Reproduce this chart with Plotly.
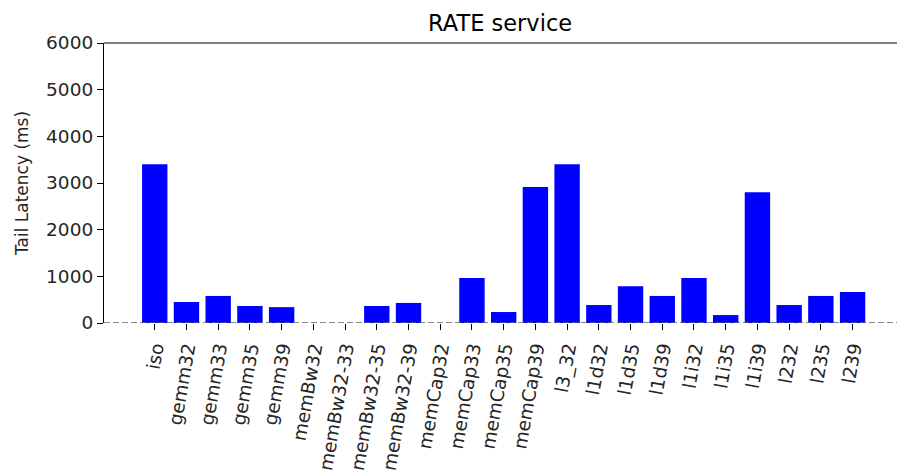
import plotly.graph_objects as go

categories = ["iso", "gemm32", "gemm33", "gemm35", "gemm39", "memBw32", "memBw32-33",
              "memBw32-35", "memBw32-39", "memCap32", "memCap33", "memCap35", "memCap39",
              "l3_32", "l1d32", "l1d35", "l1d39", "l1i32", "l1i35", "l1i39",
              "l232", "l235", "l239"]
latency_ms = [3400, 450, 580, 365, 340, 0, 0, 365, 430, 0, 965, 235, 2915,
              3400, 385, 790, 580, 965, 170, 2800, 385, 580, 665]
y_ticks = [0, 1000, 2000, 3000, 4000, 5000, 6000]
baseline = 0

font = dict(family="DejaVu Sans", size=18.5, color="#262626")
label_font = dict(family="DejaVu Sans", size=17, color="#262626")

fig = go.Figure(go.Bar(
    x=list(range(len(categories))), y=latency_ms,
    marker=dict(color="#0000ff", line=dict(width=0)),
    width=0.8,
))

fig.add_hline(y=baseline, layer="above",
              line=dict(color="#606060", width=1.5, dash="6px,3px"))
# top spine
fig.add_shape(type="line", xref="paper", yref="paper", x0=0, x1=1, y0=1, y1=1,
              line=dict(color="black", width=1.2))

fig.update_layout(
    width=897, height=475,
    margin=dict(l=104, r=0, t=43, b=152),
    paper_bgcolor="white", plot_bgcolor="white",
    font=font,
    showlegend=False,
    title=dict(text="RATE service", x=0.5575, xanchor="center", y=0.952, yanchor="middle",
               font=dict(family="DejaVu Sans", size=22.5, color="black")),
    xaxis=dict(
        tickmode="array", tickvals=list(range(len(categories))), ticktext=categories,
        tickangle=-80, range=[-1.6, len(categories) + 0.4],
        showgrid=False, zeroline=False, showline=False,
        ticks="outside", ticklen=6, tickcolor="black", tickwidth=1.2,
        tickfont=font, automargin=False,
    ),
    yaxis=dict(
        title=dict(text="Tail Latency (ms)", font=label_font, standoff=13),
        range=[0, 6000], tickvals=y_ticks,
        showgrid=False, zeroline=False,
        showline=True, linecolor="black", linewidth=1.2,
        ticks="outside", ticklen=6, tickcolor="black", tickwidth=1.2,
        tickfont=font, automargin=False,
    ),
    bargap=0.2,
)

fig.write_html("out.html")
